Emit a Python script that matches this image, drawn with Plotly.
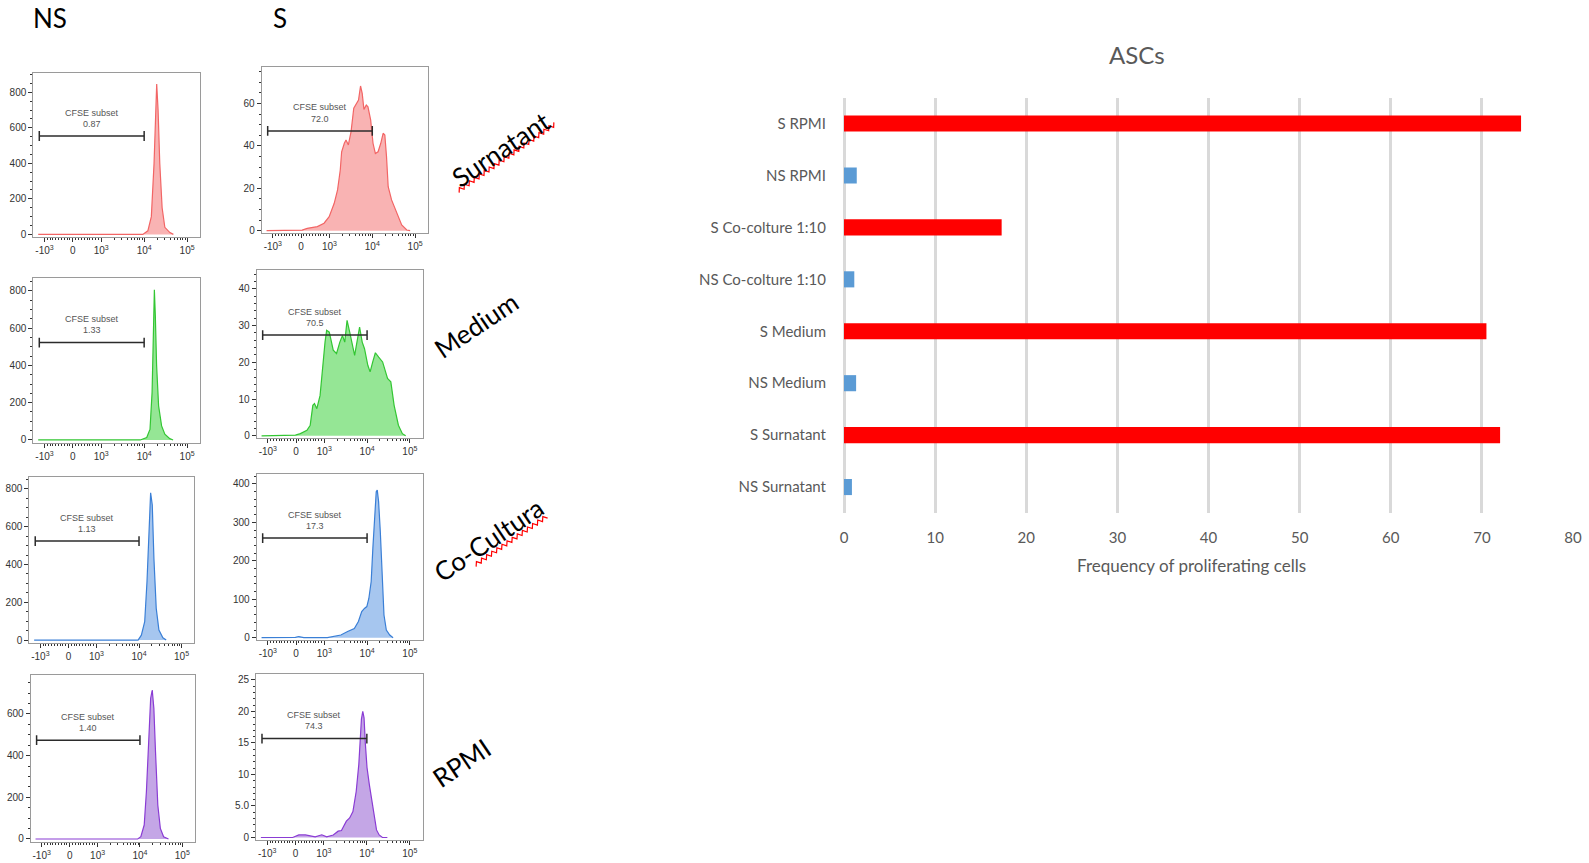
import numpy as np
import plotly.graph_objects as go

W, H = 1589, 863

# ---------------- data ----------------
# Frequency of proliferating (CFSE-diluted) cells, %
bar_labels = ["S RPMI", "NS RPMI", "S Co-colture 1:10", "NS Co-colture 1:10",
              "S Medium", "NS Medium", "S Surnatant", "NS Surnatant"]
bar_values = [74.3, 1.40, 17.3, 1.13, 70.5, 1.33, 72.0, 0.87]

# CFSE histograms: fluorescence intensity vs. cell count
ns_surn_cfse = [-1400, 9300, 12200, 14700, 17000, 18600, 19600, 21100, 23100, 26200, 30300, 39800, 47900]
ns_surn_count = [0, 0, 20, 100, 400, 750, 847, 700, 400, 150, 40, 10, 0]

s_surn_cfse = [-1400, -200, 36, 215, 573, 811, 991, 1294, 1549, 1791, 1928, 2228, 2438, 2767, 3199,
               3698, 4198, 4775, 5321, 5821, 6383, 7244, 7925, 9162, 10400, 11800, 13650, 15780,
               17900, 19630, 21480, 23500, 28180, 36980, 48530, 63830, 76380]
s_surn_count = [0, 0, 0.3, 1.1, 1.9, 3.5, 6.6, 12.9, 19.2, 28.6, 37.2, 41.2, 42.7, 40.4, 46.7,
                57.7, 60.0, 61.6, 68.2, 64.7, 57.2, 59.2, 58.4, 52.2, 41.2, 36.4, 37.2, 41.2,
                45.9, 45.1, 34.9, 20.7, 14.5, 8.2, 2.7, 0.3, 0]

ns_med_cfse = [-1400, 8100, 11500, 13700, 15300, 16400, 17300, 18200, 19500, 21700, 25500, 30300, 39500, 47200]
ns_med_count = [0, 0, 13, 58, 255, 579, 805, 669, 399, 183, 75, 31, 7, 0]

s_med_cfse = [-1400, -200, -23, 152, 385, 501, 594, 653, 735, 851, 944, 1040, 1135, 1309, 1618,
              1932, 2307, 2661, 3006, 3404, 3926, 5117, 5794, 6683, 7691, 8710, 10400, 11780,
              13550, 15630, 18660, 23070, 30060, 35890, 42850, 53950, 66830, 79800]
s_med_count = [0, 0, 0.2, 0.6, 1.5, 2.9, 8.3, 8.8, 7.4, 11.0, 19.2, 25.5, 28.7, 28.2, 23.3,
               22.4, 25.5, 27.3, 25.5, 31.4, 28.2, 21.9, 25.5, 29.6, 25.5, 23.7, 19.2, 17.4,
               20.1, 22.6, 21.4, 20.1, 15.6, 14.7, 8.3, 2.9, 0.6, 0]

ns_co_cfse = [-1400, 9500, 11350, 13600, 15400, 17100, 18750, 20500, 22400, 25400, 29400, 36400, 43600]
ns_co_count = [0, 0, 26, 97, 309, 574, 780, 715, 433, 168, 53, 12, 0]

s_co_cfse = [-1400, -200, -24, 95, 274, 1180, 1698, 2438, 3508, 5035, 6266, 7499, 8670, 9863,
             10990, 12470, 13650, 14960, 16370, 17300, 18580, 20370, 22280, 24830, 28180, 33810, 40550]
s_co_count = [0, 0, 1, 3, 0, 0, 3, 7, 16, 24, 42, 68, 76, 81,
              102, 146, 233, 319, 380, 384, 354, 276, 163, 59, 20, 7, 0]

ns_rpmi_cfse = [-1400, 8850, 10500, 12600, 14200, 16400, 17900, 19500, 21300, 23300, 26400, 30300, 36200, 47200]
ns_rpmi_count = [0, 0, 11, 67, 227, 483, 675, 715, 627, 419, 163, 51, 11, 0]

s_rpmi_cfse = [-1400, -100, 115, 347, 694, 926, 1161, 1652, 2148, 2564, 3334, 3981, 4742, 5649,
               6501, 6982, 7482, 8035, 8610, 9247, 10090, 11430, 13150, 14860, 16790, 19360, 23070, 30000]
s_rpmi_count = [0, 0, 0.4, 0.4, 0.1, 0.43, 0.1, 0.4, 1.0, 1.1, 2.6, 3.1, 4.1, 7.3,
                11.6, 15.9, 18.8, 20.0, 19.0, 14.8, 11.1, 8.4, 5.7, 3.1, 1.2, 0.4, 0, 0]

# "CFSE subset" gate: intensity limits and the count level the bar sits at
gate_limits = [-1320, 10000]
gate_levels = {"NS Surnatant": 554, "S Surnatant": 47, "NS Medium": 522, "S Medium": 27.4,
               "NS Co-colture 1:10": 524, "S Co-colture 1:10": 259, "NS RPMI": 474, "S RPMI": 15.7}

cfse_ticks = [-1000, 0, 1000, 10000, 100000]
cfse_ticktext = ["-10<sup>3</sup>", "0", "10<sup>3</sup>", "10<sup>4</sup>", "10<sup>5</sup>"]

# ---------------- helpers ----------------
LIN = 0.66  # width of the linear zone (-10^3..10^3) in decades


def logicle(v):
    """Simple biexponential-like display transform: linear near zero, log above 10^3."""
    v = np.asarray(v, dtype=float)
    a = np.abs(v)
    logpart = np.sign(v) * (LIN + np.log10(np.maximum(a, 1000.0) / 1000.0))
    return np.where(a <= 1000, v / 1000.0 * LIN, logpart)


def px(x):
    return x / W


def py(y):
    return 1 - y / H


frequency = dict(zip(bar_labels, bar_values))

minor_cfse = ([-v for v in range(100, 1000, 100)] + list(range(100, 1000, 100)) +
              list(range(2000, 10000, 1000)) + list(range(20000, 100000, 10000)))

# panel frames (pixels) and axis settings
panels = [
    dict(key="NS Surnatant", x=ns_surn_cfse, y=ns_surn_count, box=(33.3, 200.0, 73.3, 236.7),
         yr=(-13, 907), yt=[0, 200, 400, 600, 800], ym=50, line="#F26565", fill="rgba(247,160,160,0.8)"),
    dict(key="S Surnatant", x=s_surn_cfse, y=s_surn_count, box=(261.7, 428.0, 66.7, 233.0),
         yr=(-1.1, 77.3), yt=[0, 20, 40, 60], ym=5, line="#F26565", fill="rgba(247,160,160,0.8)"),
    dict(key="NS Medium", x=ns_med_cfse, y=ns_med_count, box=(33.3, 200.0, 278.3, 443.3),
         yr=(-18, 867), yt=[0, 200, 400, 600, 800], ym=50, line="#33C633", fill="rgba(130,226,130,0.85)"),
    dict(key="S Medium", x=s_med_cfse, y=s_med_count, box=(256.7, 422.7, 270.0, 437.7),
         yr=(-0.5, 45.1), yt=[0, 10, 20, 30, 40], ym=2, line="#33C633", fill="rgba(130,226,130,0.85)"),
    dict(key="NS Co-colture 1:10", x=ns_co_cfse, y=ns_co_count, box=(29.3, 194.3, 476.7, 642.7),
         yr=(-14, 865), yt=[0, 200, 400, 600, 800], ym=50, line="#3A7FD6", fill="rgba(150,188,236,0.85)"),
    dict(key="S Co-colture 1:10", x=s_co_cfse, y=s_co_count, box=(256.7, 422.7, 474.3, 640.0),
         yr=(-6, 425), yt=[0, 100, 200, 300, 400], ym=20, line="#3A7FD6", fill="rgba(150,188,236,0.85)"),
    dict(key="NS RPMI", x=ns_rpmi_cfse, y=ns_rpmi_count, box=(30.7, 195.0, 675.0, 841.7),
         yr=(-13, 787), yt=[0, 200, 400, 600], ym=50, line="#8A3CD4", fill="rgba(186,150,226,0.85)"),
    dict(key="S RPMI", x=s_rpmi_cfse, y=s_rpmi_count, box=(256.0, 422.7, 674.3, 840.0),
         yr=(-0.4, 25.9), yt=[0, 5, 10, 15, 20, 25], ym=1, line="#8A3CD4", fill="rgba(186,150,226,0.85)"),
]

fig = go.Figure()
layout = dict(width=W, height=H, margin=dict(l=0, r=0, t=0, b=0, pad=0, autoexpand=False),
              paper_bgcolor="white", plot_bgcolor="white", showlegend=False)
annotations = []
shapes = []

hist_tickfont = dict(family="Liberation Sans, Arial, sans-serif", size=10, color="#333333")
gate_font = dict(family="Liberation Sans, Arial, sans-serif", size=9, color="#555555")

for i, p in enumerate(panels, start=1):
    xa, ya = f"x{i}", f"y{i}"
    x0, x1, y0, y1 = p["box"]
    fig.add_trace(go.Scatter(
        x=logicle(p["x"]), y=p["y"], mode="lines", fill="tozeroy",
        fillcolor=p["fill"], line=dict(color=p["line"], width=1.2),
        xaxis=xa, yaxis=ya, hoverinfo="skip"))

    level = gate_levels[p["key"]]
    gx = logicle(gate_limits)
    fig.add_trace(go.Scatter(
        x=gx, y=[level, level], mode="lines+markers",
        line=dict(color="#2b2b2b", width=1.5),
        marker=dict(symbol="line-ns", size=7, line=dict(color="#2b2b2b", width=1.5)),
        xaxis=xa, yaxis=ya, hoverinfo="skip"))

    pct = frequency[p["key"]]
    pct_txt = f"{pct:.2f}" if pct < 10 else f"{pct:.1f}"
    xmid = float(np.mean(gx))
    for txt, shift in (("CFSE subset", 23.5), (pct_txt, 12.3)):
        annotations.append(dict(x=xmid, y=level, xref=xa, yref=ya, text=txt, showarrow=False,
                                xanchor="center", yanchor="middle", yshift=shift, font=gate_font))

    yticktext = ["5.0" if v == 5 else str(v) for v in p["yt"]]
    axis_common = dict(showline=True, mirror=True, linecolor="#9a9a9a", linewidth=1,
                       showgrid=False, zeroline=False, ticks="outside", ticklen=4,
                       tickcolor="#333333", tickwidth=1, tickfont=hist_tickfont)
    layout[f"xaxis{i}"] = dict(
        domain=[px(x0), px(x1)], range=[-0.92, 2.96], anchor=ya,
        tickmode="array", tickvals=logicle(cfse_ticks).tolist(), ticktext=cfse_ticktext,
        minor=dict(tickmode="array", tickvals=logicle(minor_cfse).tolist(), ticks="outside",
                   ticklen=2, tickcolor="#333333"),
        **axis_common)
    layout[f"yaxis{i}"] = dict(
        domain=[py(y1), py(y0)], range=list(p["yr"]), anchor=xa,
        tickmode="array", tickvals=p["yt"], ticktext=yticktext,
        minor=dict(tick0=0, dtick=p["ym"], ticks="outside", ticklen=2, tickcolor="#333333"),
        **axis_common)

# ---------------- bar chart ----------------
bar_colors = ["#FF0000" if lab.startswith("S ") else "#5B9BD5" for lab in bar_labels]
fig.add_trace(go.Bar(x=bar_values, y=bar_labels, orientation="h", marker_color=bar_colors,
                     marker_line_width=0, width=0.31, xaxis="x9", yaxis="y9", hoverinfo="skip"))

calibri = "Lato, Open Sans, sans-serif"
layout["xaxis9"] = dict(domain=[px(844), px(1573)], range=[0, 80], dtick=10, anchor="y9",
                        showgrid=True, gridcolor="#D9D9D9", gridwidth=2.5,
                        zeroline=True, zerolinecolor="#D9D9D9", zerolinewidth=2.5,
                        showline=False, ticks="", ticklabelstandoff=14,
                        tickfont=dict(family=calibri, size=15, color="#595959"))
layout["yaxis9"] = dict(domain=[py(513), py(97.6)], anchor="x9", type="category",
                        categoryorder="array", categoryarray=bar_labels, autorange="reversed",
                        showgrid=False, zeroline=False, showline=False, ticks="",
                        ticklabelstandoff=17,
                        tickfont=dict(family=calibri, size=15, color="#595959"))

annotations.append(dict(x=px(1137), y=py(55), xref="paper", yref="paper", text="ASCs",
                        xanchor="center", yanchor="middle", showarrow=False,
                        font=dict(family=calibri, size=24, color="#595959")))
annotations.append(dict(x=px(1191), y=py(565), xref="paper", yref="paper",
                        text="Frequency of proliferating cells", showarrow=False,
                        xanchor="center", yanchor="middle",
                        font=dict(family=calibri, size=17, color="#595959")))

# ---------------- column / row labels ----------------
big = dict(family=calibri, size=26, color="#000000")
for txt, x, y, ang in (("NS", 50, 18, 0), ("S", 280, 18, 0),
                       ("Surnatant", 501, 149, -34), ("Medium", 476, 325, -34),
                       ("Co-Cultura", 488, 540, -34), ("RPMI", 461, 763, -34)):
    annotations.append(dict(x=px(x), y=py(y), xref="paper", yref="paper", text=txt,
                            showarrow=False, textangle=ang, xanchor="center", yanchor="middle",
                            font=big))


def squiggle(x0, y0, x1, y1, amp=2.0, step=3.0):
    """Zig-zag underline between two pixel positions."""
    L = np.hypot(x1 - x0, y1 - y0)
    n = int(L / step)
    t = np.linspace(0, 1, n + 1)
    nx, ny = -(y1 - y0) / L, (x1 - x0) / L
    off = np.where(np.arange(n + 1) % 2 == 0, amp, -amp)
    xs = x0 + (x1 - x0) * t + nx * off
    ys = y0 + (y1 - y0) * t + ny * off
    return "M " + " L ".join(f"{px(a):.5f},{py(b):.5f}" for a, b in zip(xs, ys))


for seg in ((458, 191, 555, 124), (475, 565, 546.5, 516.5)):
    shapes.append(dict(type="path", path=squiggle(*seg), xref="paper", yref="paper",
                       line=dict(color="#FF0000", width=1.2)))

layout["annotations"] = annotations
layout["shapes"] = shapes
fig.update_layout(**layout)

fig.write_html("out.html")
